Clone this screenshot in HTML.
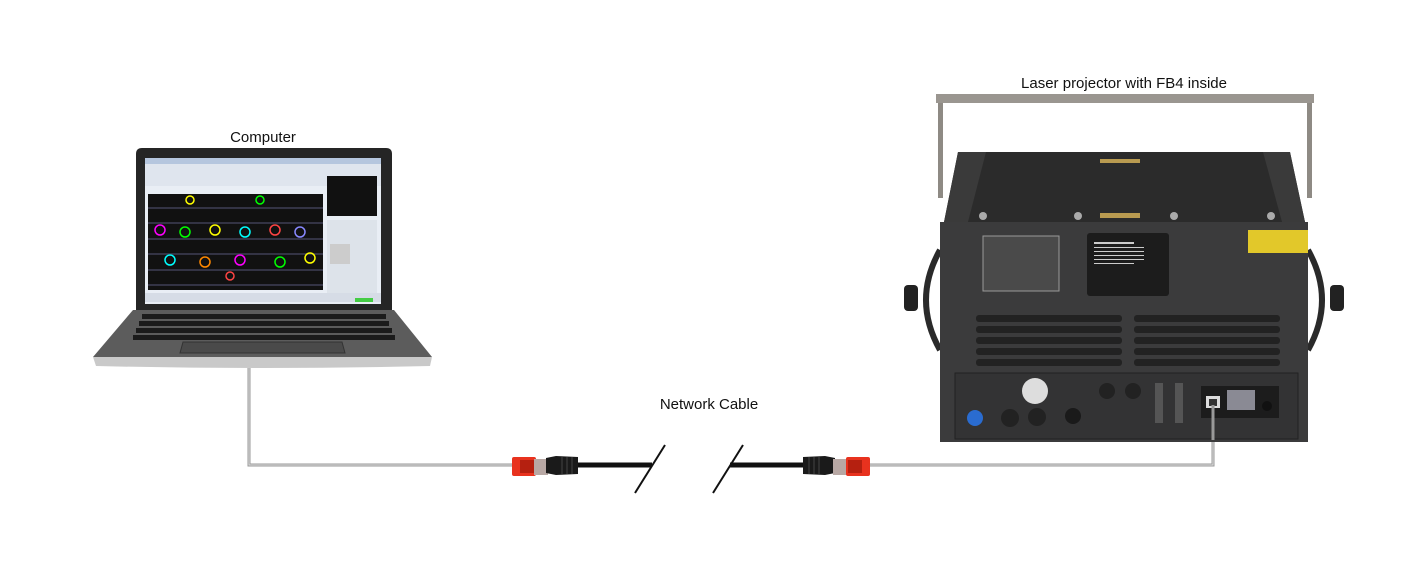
<!DOCTYPE html>
<html><head><meta charset="utf-8"><style>
html,body{margin:0;padding:0;background:#fff;width:1418px;height:577px;overflow:hidden}
svg{display:block}
text{font-family:"Liberation Sans",sans-serif;font-size:15px;fill:#111}
</style></head><body>
<svg width="1418" height="577" viewBox="0 0 1418 577">
<text x="263" y="142" text-anchor="middle">Computer</text>
<text x="1124" y="88" text-anchor="middle">Laser projector with FB4 inside</text>
<text x="709" y="409" text-anchor="middle">Network Cable</text>

<polyline points="249,368 249,465 512,465" fill="none" stroke="#999" stroke-width="3"/>
<polyline points="870,465 1213,465 1213,405" fill="none" stroke="#999" stroke-width="3"/>
<polyline points="249,368 249,465 512,465" fill="none" stroke="#ddd" stroke-width="1"/>
<polyline points="870,465 1213,465 1213,405" fill="none" stroke="#ddd" stroke-width="1"/>
<line x1="575" y1="465" x2="652" y2="465" stroke="#111" stroke-width="5"/>
<line x1="730" y1="465" x2="806" y2="465" stroke="#111" stroke-width="5"/>
<line x1="635" y1="493" x2="665" y2="445" stroke="#111" stroke-width="2"/>
<line x1="713" y1="493" x2="743" y2="445" stroke="#111" stroke-width="2"/>
<rect x="512" y="457" width="24" height="19" rx="2" fill="#e8321e"/>
<rect x="520" y="460" width="14" height="13" fill="#b52010"/>
<rect x="534" y="459" width="14" height="16" fill="#b8a8a4"/>
<path d="M546,458 L556,456 L578,457 L578,474 L556,475 L546,473 Z" fill="#1a1a1a"/>
<g stroke="#444" stroke-width="1"><line x1="562" y1="457" x2="562" y2="474"/><line x1="567" y1="457" x2="567" y2="474"/><line x1="572" y1="457" x2="572" y2="474"/></g>
<path d="M803,457 L825,456 L835,458 L835,473 L825,475 L803,474 Z" fill="#1a1a1a"/>
<g stroke="#444" stroke-width="1"><line x1="809" y1="457" x2="809" y2="474"/><line x1="814" y1="457" x2="814" y2="474"/><line x1="819" y1="457" x2="819" y2="474"/></g>
<rect x="833" y="459" width="14" height="16" fill="#b8a8a4"/>
<rect x="846" y="457" width="24" height="19" rx="2" fill="#e8321e"/>
<rect x="848" y="460" width="14" height="13" fill="#b52010"/>

<!-- laptop -->
<path d="M93,357 L133,310 L394,310 L432,357 Z" fill="#5c5c5c"/>
<path d="M93,357 L432,357 L430,366 Q262,370 96,366 Z" fill="#c9c9c9"/>
<path d="M180,353 L345,353 L342,342 L183,342 Z" fill="#4a4a4a" stroke="#333"/>
<g fill="#1b1b1b">
<rect x="142" y="314" width="244" height="5"/>
<rect x="139" y="321" width="250" height="5"/>
<rect x="136" y="328" width="256" height="5"/>
<rect x="133" y="335" width="262" height="5"/>
</g>
<path d="M136,310 L136,154 Q136,148 142,148 L386,148 Q392,148 392,154 L392,310 Z" fill="#252525"/>
<rect x="145" y="158" width="236" height="146" fill="#e9eef5"/>
<rect x="145" y="158" width="236" height="6" fill="#b5c6de"/>
<rect x="145" y="164" width="236" height="22" fill="#dfe5ee"/>
<rect x="148" y="194" width="175" height="96" fill="#111"/>
<g fill="#334">
<rect x="148" y="207" width="175" height="2"/><rect x="148" y="222" width="175" height="2"/>
<rect x="148" y="238" width="175" height="2"/><rect x="148" y="253" width="175" height="2"/>
<rect x="148" y="269" width="175" height="2"/><rect x="148" y="284" width="175" height="2"/>
</g>
<g fill="none" stroke-width="1.5">
<circle cx="160" cy="230" r="5" stroke="#f0f"/><circle cx="185" cy="232" r="5" stroke="#0f0"/>
<circle cx="215" cy="230" r="5" stroke="#ff0"/><circle cx="245" cy="232" r="5" stroke="#0ff"/>
<circle cx="275" cy="230" r="5" stroke="#f44"/><circle cx="300" cy="232" r="5" stroke="#88f"/>
<circle cx="170" cy="260" r="5" stroke="#0ff"/><circle cx="205" cy="262" r="5" stroke="#f80"/>
<circle cx="240" cy="260" r="5" stroke="#f0f"/><circle cx="280" cy="262" r="5" stroke="#0f0"/>
<circle cx="310" cy="258" r="5" stroke="#ff0"/><circle cx="190" cy="200" r="4" stroke="#ff0"/>
<circle cx="260" cy="200" r="4" stroke="#0f0"/><circle cx="230" cy="276" r="4" stroke="#f44"/>
</g>
<rect x="327" y="176" width="50" height="40" fill="#111"/>
<rect x="327" y="220" width="50" height="80" fill="#dde3ea"/>
<rect x="330" y="244" width="20" height="20" fill="#ccc"/>
<rect x="145" y="293" width="236" height="9" fill="#d6dce6"/>
<rect x="355" y="298" width="18" height="4" fill="#4c4"/>

<!-- projector -->
<rect x="936" y="94" width="378" height="9" fill="#9a9690"/>
<rect x="938" y="103" width="5" height="95" fill="#8e8a84"/>
<rect x="1307" y="103" width="5" height="95" fill="#8e8a84"/>
<path d="M940,250 Q912,300 940,350" fill="none" stroke="#2a2a2a" stroke-width="6"/>
<path d="M1308,250 Q1336,300 1308,350" fill="none" stroke="#2a2a2a" stroke-width="6"/>
<rect x="904" y="285" width="14" height="26" rx="4" fill="#222"/>
<rect x="1330" y="285" width="14" height="26" rx="4" fill="#222"/>
<path d="M958,152 L1290,152 L1305,222 L944,222 Z" fill="#2b2b2b"/>
<path d="M958,152 L986,152 L968,222 L944,222 Z" fill="#3a3a3a"/>
<path d="M1263,152 L1290,152 L1305,222 L1282,222 Z" fill="#3a3a3a"/>
<rect x="1100" y="159" width="40" height="4" fill="#b89a50"/>
<rect x="1100" y="213" width="40" height="5" fill="#b89a50"/>
<g fill="#aaa"><circle cx="983" cy="216" r="4"/><circle cx="1078" cy="216" r="4"/><circle cx="1174" cy="216" r="4"/><circle cx="1271" cy="216" r="4"/></g>
<rect x="940" y="222" width="368" height="220" fill="#3b3b3c"/>
<rect x="983" y="236" width="76" height="55" fill="#4a4a4a" stroke="#999" stroke-width="1"/>
<rect x="1087" y="233" width="82" height="63" rx="3" fill="#1c1c1c"/>
<g fill="#ccc"><rect x="1094" y="242" width="40" height="2"/><rect x="1094" y="247" width="50" height="1"/><rect x="1094" y="251" width="50" height="1"/><rect x="1094" y="255" width="50" height="1"/><rect x="1094" y="259" width="50" height="1"/><rect x="1094" y="263" width="40" height="1"/></g>
<rect x="1248" y="230" width="60" height="23" fill="#e2c82a"/>
<g fill="#222">
<rect x="976" y="315" width="146" height="7" rx="3"/><rect x="1134" y="315" width="146" height="7" rx="3"/>
<rect x="976" y="326" width="146" height="7" rx="3"/><rect x="1134" y="326" width="146" height="7" rx="3"/>
<rect x="976" y="337" width="146" height="7" rx="3"/><rect x="1134" y="337" width="146" height="7" rx="3"/>
<rect x="976" y="348" width="146" height="7" rx="3"/><rect x="1134" y="348" width="146" height="7" rx="3"/>
<rect x="976" y="359" width="146" height="7" rx="3"/><rect x="1134" y="359" width="146" height="7" rx="3"/>
</g>
<rect x="955" y="373" width="343" height="66" fill="#333334" stroke="#222"/>
<circle cx="1035" cy="391" r="13" fill="#ddd"/>
<circle cx="975" cy="418" r="8" fill="#2a6cd0"/>
<circle cx="1010" cy="418" r="9" fill="#222"/><circle cx="1037" cy="417" r="9" fill="#222"/>
<circle cx="1073" cy="416" r="8" fill="#1a1a1a"/>
<circle cx="1107" cy="391" r="8" fill="#222"/><circle cx="1133" cy="391" r="8" fill="#222"/>
<rect x="1155" y="383" width="8" height="40" fill="#555"/><rect x="1175" y="383" width="8" height="40" fill="#555"/>
<rect x="1201" y="386" width="78" height="32" fill="#1c1c1c"/>
<rect x="1227" y="390" width="28" height="20" fill="#8a8a94"/>
<rect x="1206" y="396" width="14" height="12" fill="#ddd"/>
<rect x="1209" y="399" width="8" height="7" fill="#333"/>
<circle cx="1267" cy="406" r="5" fill="#111"/>
<line x1="1213" y1="405" x2="1213" y2="440" stroke="#999" stroke-width="3"/>
</svg>
</body></html>
